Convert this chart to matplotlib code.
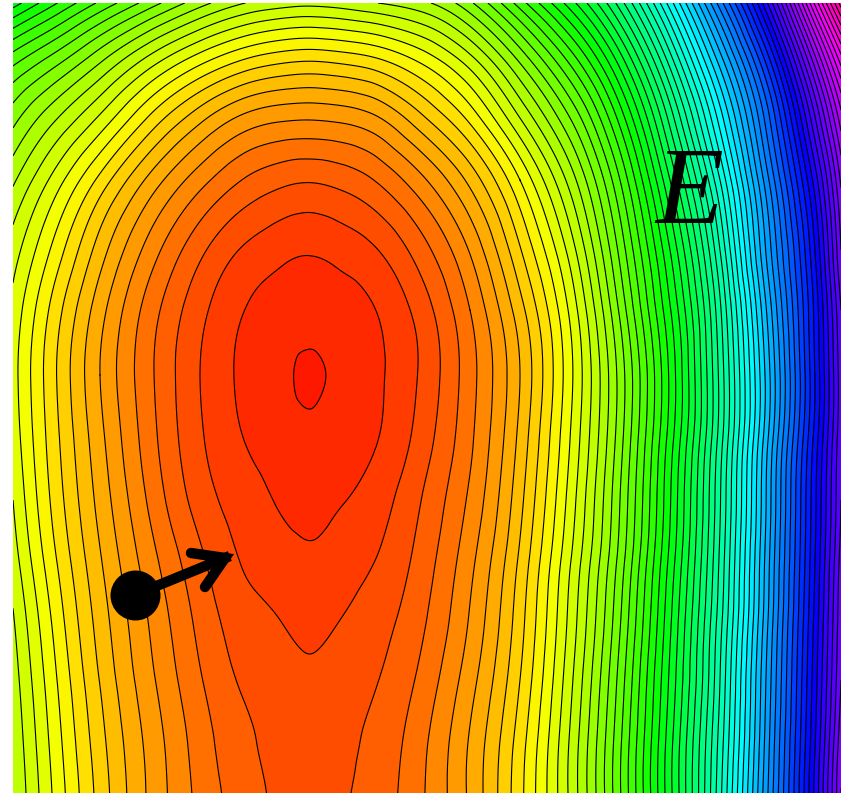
from matplotlib import pyplot as plt
from matplotlib import tri
import numpy as np

# grid positions, in picture pixels
x_pos = [13, 50, 100, 150, 200, 250, 280, 310, 340, 370, 420, 470, 520, 570, 620, 670, 720, 770, 810, 841]
y_pos = [3, 60, 120, 180, 250, 310, 375, 440, 500, 560, 620, 680, 740, 793]

# E, counted in contour lines from the minimum
row_003 = [27.5, 25.4, 22.8, 20.5, 18.4, 16.9, 16.5, 16.3, 16.5, 16.9, 17.7, 19.8, 23.5, 27.5, 32.5, 39.5, 47.5, 56.5, 66.0, 73.5]
row_060 = [22.4, 20.7, 18.2, 15.6, 13.4, 11.8, 11.3, 11.1, 11.3, 11.7, 13.2, 15.6, 19.2, 23.3, 28.5, 35.5, 43.5, 52.0, 60.5, 67.5]
row_120 = [19.3, 17.3, 14.7, 11.7, 9.2, 7.5, 7.1, 7.0, 7.15, 7.6, 9.6, 12.2, 15.9, 19.9, 25.3, 32.3, 40.4, 49.0, 56.8, 63.5]
row_180 = [17.2, 14.9, 11.7, 8.7, 6.4, 4.8, 4.3, 4.1, 4.35, 4.9, 6.7, 9.3, 13.0, 17.4, 23.0, 30.0, 38.0, 47.2, 54.5, 61.2]
row_250 = [15.5, 13.0, 9.5, 6.55, 4.25, 2.75, 2.3, 2.1, 2.35, 2.8, 4.5, 7.1, 10.9, 15.4, 21.3, 28.0, 36.0, 45.8, 53.0, 60.0]
row_310 = [14.7, 11.9, 8.4, 5.5, 3.3, 1.9, 1.55, 1.45, 1.55, 1.9, 3.4, 6.0, 9.6, 14.2, 20.2, 26.9, 34.8, 44.7, 52.3, 59.0]
row_375 = [14.4, 11.5, 8.0, 5.2, 3.0, 1.7, 1.25, 0.85, 1.3, 1.75, 3.1, 5.6, 9.0, 13.7, 19.4, 26.2, 34.3, 44.0, 52.0, 58.6]
row_440 = [14.6, 11.7, 8.3, 5.4, 3.15, 1.9, 1.5, 1.3, 1.5, 1.85, 3.4, 5.8, 9.3, 14.0, 19.6, 26.5, 34.5, 44.4, 52.4, 58.8]
row_500 = [15.0, 12.0, 8.65, 5.8, 3.55, 2.35, 1.9, 1.7, 1.93, 2.35, 3.95, 6.2, 9.7, 14.4, 20.0, 26.9, 34.9, 44.8, 52.8, 59.0]
row_560 = [15.5, 12.5, 9.1, 6.4, 4.2, 2.8, 2.4, 2.15, 2.45, 2.9, 4.35, 6.7, 10.2, 14.9, 20.4, 27.3, 35.2, 45.1, 53.0, 59.4]
row_620 = [16.1, 13.1, 9.55, 6.9, 4.7, 3.35, 3.0, 2.7, 3.0, 3.45, 4.75, 7.1, 10.6, 15.3, 20.9, 27.8, 35.6, 45.4, 53.3, 59.7]
row_680 = [16.5, 13.55, 9.95, 7.25, 5.1, 3.75, 3.4, 3.2, 3.45, 3.85, 5.2, 7.6, 11.0, 15.7, 21.4, 28.2, 36.0, 45.8, 53.6, 60.0]
row_740 = [16.8, 13.9, 10.35, 7.65, 5.5, 4.1, 3.7, 3.5, 3.75, 4.15, 5.65, 8.1, 11.5, 16.1, 21.8, 28.6, 36.4, 46.1, 53.9, 60.6]
row_793 = [17.0, 14.15, 10.6, 7.8, 5.7, 4.3, 3.8, 3.6, 3.85, 4.3, 5.8, 8.2, 11.7, 16.2, 21.9, 28.7, 36.7, 46.4, 54.2, 61.0]

all_rows = [row_003, row_060, row_120, row_180, row_250, row_310, row_375,
            row_440, row_500, row_560, row_620, row_680, row_740, row_793]

# ball and arrow
ball = (134.5, 595)
arrow_tip = (225, 558)
arrow_arm1 = (191, 553)
arrow_arm2 = (205, 587)

fig = plt.figure(figsize=(8.41, 7.93), dpi=100)
ax = fig.add_axes([13 / 841, 0, 828 / 841, 790 / 793])

grid_x, grid_y = np.meshgrid(x_pos, y_pos)
field = np.array(all_rows).ravel()
mesh = tri.Triangulation(grid_x.ravel(), grid_y.ravel())
fine_mesh, fine_field = tri.UniformTriRefiner(mesh).refine_field(field, subdiv=4)

levels = np.arange(0, 76)
ax.tricontourf(fine_mesh, fine_field, levels=levels, cmap='hsv', vmin=-0.8, vmax=80.2)
ax.tricontour(fine_mesh, fine_field, levels=levels[1:], colors='black', linewidths=0.8)

# arrow from the ball
ax.plot([ball[0], arrow_tip[0]], [ball[1], arrow_tip[1]], color='black', lw=7.5)
ax.plot([arrow_arm1[0], arrow_tip[0], arrow_arm2[0]], [arrow_arm1[1], arrow_tip[1], arrow_arm2[1]],
        color='black', lw=7.5, solid_capstyle='round', solid_joinstyle='miter')
ax.scatter([ball[0]], [ball[1]], s=(50 * 0.72) ** 2, color='black', zorder=5, linewidths=0)

ax.text(689, 196, 'E', family='Liberation Serif', style='italic', fontsize=80,
        ha='center', va='center', color='black')

ax.set_xlim(13, 841)
ax.set_ylim(793, 3)
ax.axis('off')

plt.savefig('out.png', dpi=100)
